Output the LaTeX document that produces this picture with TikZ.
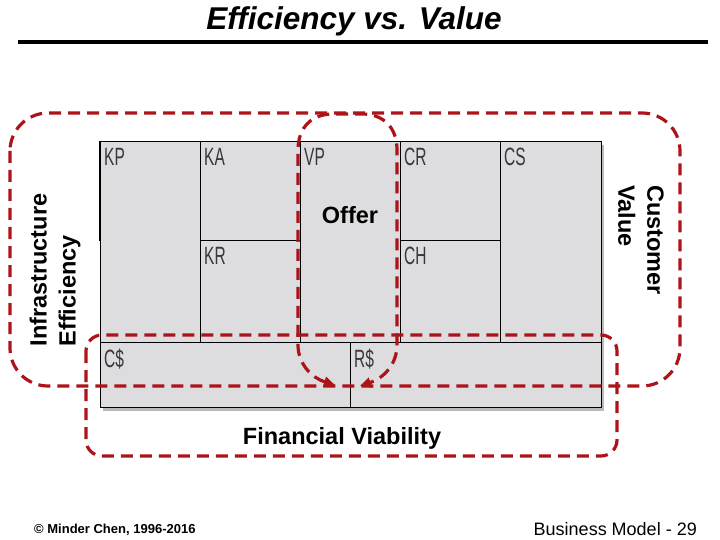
\documentclass[tikz,border=0pt]{standalone}
\usepackage{fontspec}
\setmainfont{Liberation Sans}
\newfontfamily\cellfont[FakeStretch=0.62]{Liberation Sans}
\usetikzlibrary{arrows.meta,shadows}
\definecolor{dashred}{RGB}{172,20,26}
\definecolor{canvasgray}{RGB}{221,220,223}
\definecolor{celltext}{RGB}{55,55,60}
\tikzset{
  cell/.style={draw=black, line width=0.9pt, anchor=north west, inner sep=0pt, outer sep=0pt},
  lbl/.style={anchor=north west, inner sep=0pt, font=\cellfont\fontsize{25}{25}\selectfont, text=celltext},
  dashbox/.style={draw=dashred, line width=3.2pt, dash pattern=on 12pt off 7pt},
  big/.style={font=\bfseries\fontsize{23.5}{29}\selectfont, align=left, inner sep=0pt},
  offertip/.tip={Triangle[length=11pt,width=10pt]}
}
\begin{document}
\begin{tikzpicture}[x=1pt,y=-1pt]
\useasboundingbox (0,0) rectangle (720,540);
% title and rule
\node[font=\bfseries\itshape\fontsize{31.5}{36}\selectfont, inner sep=0pt] (title) at (354,21) {Efficiency vs. Value};
\coordinate (ruleL) at (18,42);
\coordinate (ruleR) at (708,42);
\draw[line width=4pt] (ruleL) -- (ruleR);
% canvas
\node[fill=canvasgray, draw=black, line width=1.4pt, anchor=north west, minimum width=501pt, minimum height=266pt, inner sep=0pt,
  drop shadow={shadow xshift=2.5pt, shadow yshift=-3pt, fill=black!60, opacity=0.45}] (canvas) at (100,141) {};
\node[cell, minimum width=100pt, minimum height=201pt] (KP) at (100,141) {};
\node[cell, minimum width=100pt, minimum height=99pt] (KA) at (200,141) {};
\node[cell, minimum width=100pt, minimum height=102pt] (KR) at (200,240) {};
\node[cell, minimum width=100pt, minimum height=201pt] (VP) at (300,141) {};
\node[cell, minimum width=100pt, minimum height=99pt] (CR) at (400,141) {};
\node[cell, minimum width=100pt, minimum height=102pt] (CH) at (400,240) {};
\node[cell, minimum width=101pt, minimum height=201pt] (CS) at (500,141) {};
\node[cell, minimum width=250pt, minimum height=65pt] (CD) at (100,342) {};
\node[cell, minimum width=251pt, minimum height=65pt] (RD) at (350,342) {};
\draw[line width=2.2pt] (KP.north west) -- ([yshift=-1pt]KA.south -| KP.west);
\foreach \c/\t in {KP/KP, KA/KA, KR/KR, VP/VP, CR/CR, CH/CH, CS/CS, CD/C\$, RD/R\$}
  \node[lbl] (\c t) at ([shift={(4,7)}]\c.north west) {\t};
% texts
\node[big] (offer) at (350,215) {Offer};
\node[big, rotate=90] (infra) at (55,270) {Infrastructure\\Efficiency};
\node[big, rotate=-90] (cust) at (641,240) {Customer\\Value};
\node[big] (fin) at (342,438) {Financial Viability};
% dashed outlines
\draw[dashbox, rounded corners=38pt] (10,113) rectangle (680,386);
\draw[dashbox, rounded corners=16pt] (86,335) rectangle (617,456);
\coordinate (offL) at (335,385);
\coordinate (offR) at (360,386);
\draw[dashbox, offertip-offertip] (offL) .. controls (312,378) and (298,364) .. (298,345) -- (298,150)
  .. controls (298,127) and (312,114) .. (333,114) -- (362,114)
  .. controls (383,114) and (397,127) .. (397,150) -- (397,345)
  .. controls (397,364) and (384,378) .. (offR);
% footer
\node[font=\bfseries\fontsize{13}{15}\selectfont, anchor=west, inner sep=0pt] (copy) at (34,530) {© Minder Chen, 1996-2016};
\node[font=\fontsize{18}{22}\selectfont, anchor=east, inner sep=0pt] (page) at (697,529) {Business Model - 29};
\end{tikzpicture}
\end{document}
